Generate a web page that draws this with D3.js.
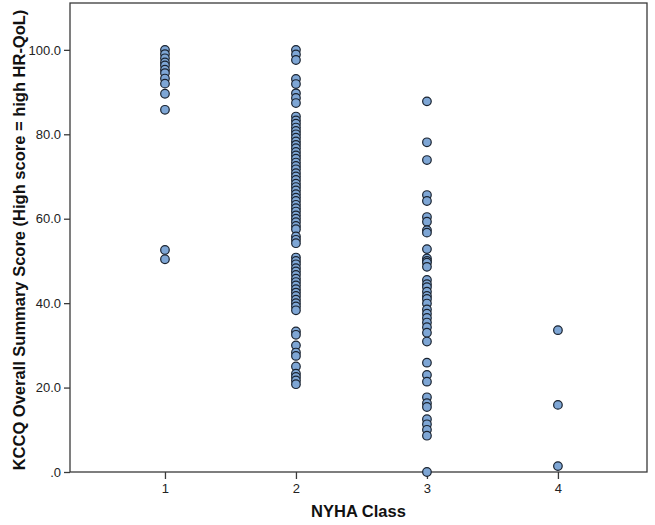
<!DOCTYPE html>
<html>
<head>
<meta charset="utf-8">
<script src="https://cdn.jsdelivr.net/npm/d3@7/dist/d3.min.js"></script>
<style>
  html, body { margin: 0; padding: 0; background: #fff; }
  svg { display: block; }
</style>
</head>
<body>
<svg id="chart" width="655" height="525"></svg>
<script>
// ---- Data ----
const classes = [1, 2, 3, 4];
const xTickLabels = ["1", "2", "3", "4"];
const yTicks = [0, 20, 40, 60, 80, 100];
const yTickLabels = [".0", "20.0", "40.0", "60.0", "80.0", "100.0"];

const class1Scores = [100, 99.0, 98.0, 97.0, 96.3, 95.3, 94.5, 93.2, 92.0, 89.6, 85.8, 52.6, 50.4];
const class2Scores = [100, 98.9, 97.6, 93.1, 91.9, 89.7, 88.6, 87.4, 84.2, 83.3, 82.5, 81.6, 80.8,
  80.0, 79.2, 78.3, 77.5, 76.7, 75.8, 75.0, 74.2, 73.3, 72.5, 71.7, 70.8, 70.0, 69.2, 68.3, 67.5,
  66.7, 65.8, 65.0, 64.2, 63.3, 62.5, 61.7, 60.8, 60.0, 59.2, 58.3, 57.5, 55.8, 55.0, 54.2, 50.8,
  50.0, 49.2, 48.3, 47.5, 46.7, 45.8, 45.0, 44.2, 43.3, 42.5, 41.7, 40.8, 40.0, 39.2, 38.3, 33.3,
  32.5, 30.0, 28.3, 27.5, 25.0, 23.3, 22.5, 21.7, 20.8];
const class3Scores = [87.8, 78.1, 73.9, 65.6, 64.2, 60.4, 59.3, 57.3, 56.7, 52.8, 50.6, 50.0, 49.6,
  48.6, 45.5, 44.5, 43.8, 42.7, 41.7, 41.0, 39.9, 38.5, 37.5, 36.5, 35.4, 34.3, 33.0, 30.9, 25.9,
  23.0, 21.4, 17.7, 16.3, 15.4, 12.5, 11.3, 10.0, 8.6, 0.0];
const class4Scores = [33.6, 15.9, 1.4];

const xTitle = "NYHA Class";
const yTitle = "KCCQ Overall Summary Score (High score = high HR-QoL)";

// ---- Build points table ----
const seriesByClass = [class1Scores, class2Scores, class3Scores, class4Scores];
const points = [];
classes.forEach((c, i) => seriesByClass[i].forEach(v => points.push({ nyha: c, score: v })));

// ---- Layout ----
const svg = d3.select("#chart");
const plot = { left: 70, right: 647, top: 3, bottom: 472 };

const x = d3.scaleLinear().domain([0.275, 4.68]).range([plot.left, plot.right]);
const y = d3.scaleLinear().domain([0, 111.1]).range([plot.bottom, plot.top]);

const axisColor = "#3a3a3a";
const labelColor = "#222";
const font = "'Liberation Sans', Arial, Helvetica, sans-serif";

// Frame
svg.append("rect")
  .attr("x", plot.left).attr("y", plot.top)
  .attr("width", plot.right - plot.left).attr("height", plot.bottom - plot.top)
  .attr("fill", "none").attr("stroke", axisColor).attr("stroke-width", 1.3);

// Y axis
const yAxis = d3.axisLeft(y).tickValues(yTicks)
  .tickFormat((d, i) => yTickLabels[i]).tickSize(6).tickPadding(3);
const gy = svg.append("g").attr("transform", `translate(${plot.left},0)`).call(yAxis);
gy.select(".domain").remove();
gy.selectAll(".tick line").attr("stroke", axisColor).attr("stroke-width", 1.3);
gy.selectAll(".tick text").attr("fill", labelColor)
  .style("font-family", font).style("font-size", "13px");

// X axis
const xAxis = d3.axisBottom(x).tickValues(classes)
  .tickFormat((d, i) => xTickLabels[i]).tickSize(7).tickPadding(5);
const gx = svg.append("g").attr("transform", `translate(0,${plot.bottom})`).call(xAxis);
gx.select(".domain").remove();
gx.selectAll(".tick line").attr("stroke", axisColor).attr("stroke-width", 1.3);
gx.selectAll(".tick text").attr("fill", labelColor)
  .style("font-family", font).style("font-size", "13px");

// Points
svg.append("g").selectAll("circle").data(points).join("circle")
  .attr("cx", d => x(d.nyha))
  .attr("cy", d => y(d.score))
  .attr("r", 4.3)
  .attr("fill", "#7ea6d5")
  .attr("stroke", "#1a2330")
  .attr("stroke-width", 1.2);

// Titles
svg.append("text")
  .attr("x", (plot.left + plot.right) / 2)
  .attr("y", 517)
  .attr("text-anchor", "middle")
  .style("font-family", font).style("font-size", "16.5px").style("font-weight", "bold")
  .attr("fill", "#111")
  .text(xTitle);

svg.append("text")
  .attr("transform", `translate(25,240) rotate(-90)`)
  .attr("text-anchor", "middle")
  .style("font-family", font).style("font-size", "16.5px").style("font-weight", "bold")
  .attr("fill", "#111")
  .text(yTitle);
</script>
</body>
</html>
